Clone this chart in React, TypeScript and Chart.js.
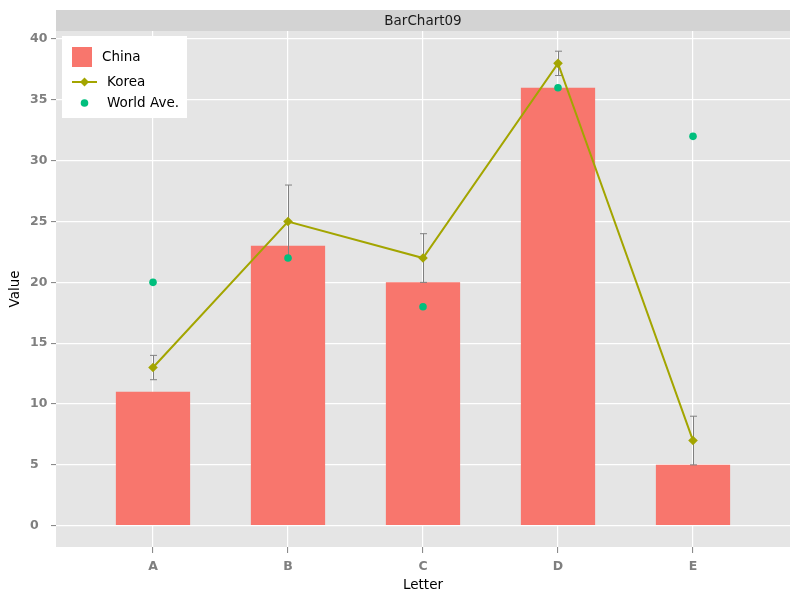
import React, { useEffect, useRef } from "react";
import { Chart, registerables } from "chart.js";

Chart.register(...registerables);

const categories = ["A", "B", "C", "D", "E"];
const chinaValues = [11, 23, 20, 36, 5];
const koreaValues = [13, 25, 22, 38, 7];
const koreaLow = [12, 22, 20, 37, 5];
const koreaHigh = [14, 28, 24, 39, 9];
const worldAveValues = [20, 22, 18, 36, 32];
const yTickValues = [0, 5, 10, 15, 20, 25, 30, 35, 40];
const chartTitle = "BarChart09";
const xTitle = "Letter";
const yTitle = "Value";
const seriesNames = ["China", "Korea", "World Ave."];

const FONT = "'DejaVu Sans', sans-serif";
const RED = "#F8766D";
const OLIVE = "#A3A500";
const GREEN = "#00BF7D";
const TICKGRAY = "#7F7F7F";

const panelPlugin = {
  id: "panelPlugin",
  beforeDraw(chart: any) {
    const { ctx, chartArea: a } = chart;
    ctx.save();
    ctx.fillStyle = "#FFFFFF";
    ctx.fillRect(0, 0, chart.width, chart.height);
    ctx.fillStyle = "#E5E5E5";
    ctx.fillRect(a.left, a.top, a.right - a.left, a.bottom - a.top);
    ctx.fillStyle = "#D3D3D3";
    ctx.fillRect(a.left, 10, a.right - a.left, a.top - 10);
    ctx.fillStyle = "#1A1A1A";
    ctx.font = `13.5px ${FONT}`;
    ctx.textAlign = "center";
    ctx.textBaseline = "middle";
    ctx.fillText(chartTitle, (a.left + a.right) / 2, (10 + a.top) / 2 + 0.5);
    ctx.fillStyle = "#000000";
    ctx.fillText(xTitle, (a.left + a.right) / 2, 585);
    ctx.translate(15, (a.top + a.bottom) / 2);
    ctx.rotate(-Math.PI / 2);
    ctx.fillText(yTitle, 0, 0);
    ctx.restore();
  },
};

const errorBarPlugin = {
  id: "errorBarPlugin",
  afterDatasetDraw(chart: any, args: any) {
    if (args.index !== 0) return;
    const { ctx } = chart;
    const xs = chart.scales.x;
    const ys = chart.scales.y;
    ctx.save();
    ctx.strokeStyle = "#808080";
    ctx.lineWidth = 1;
    categories.forEach((_, i) => {
      const x = Math.round(xs.getPixelForValue(i)) + 0.5;
      const y1 = ys.getPixelForValue(koreaLow[i]);
      const y2 = ys.getPixelForValue(koreaHigh[i]);
      ctx.beginPath();
      ctx.moveTo(x, y1);
      ctx.lineTo(x, y2);
      ctx.moveTo(x - 3.5, y1);
      ctx.lineTo(x + 3.5, y1);
      ctx.moveTo(x - 3.5, y2);
      ctx.lineTo(x + 3.5, y2);
      ctx.stroke();
    });
    ctx.restore();
  },
};

const legendPlugin = {
  id: "legendPlugin",
  afterDraw(chart: any) {
    const { ctx } = chart;
    ctx.save();
    ctx.fillStyle = "#FFFFFF";
    ctx.fillRect(62, 36, 125, 82);
    ctx.fillStyle = RED;
    ctx.fillRect(72, 47, 20, 20);
    ctx.strokeStyle = OLIVE;
    ctx.lineWidth = 2;
    ctx.beginPath();
    ctx.moveTo(72, 82);
    ctx.lineTo(97, 82);
    ctx.stroke();
    ctx.fillStyle = OLIVE;
    ctx.beginPath();
    ctx.moveTo(84.5, 77.5);
    ctx.lineTo(89, 82);
    ctx.lineTo(84.5, 86.5);
    ctx.lineTo(80, 82);
    ctx.closePath();
    ctx.fill();
    ctx.fillStyle = GREEN;
    ctx.beginPath();
    ctx.arc(84.5, 103, 3.8, 0, Math.PI * 2);
    ctx.fill();
    ctx.fillStyle = "#000000";
    ctx.font = `13.5px ${FONT}`;
    ctx.textAlign = "left";
    ctx.textBaseline = "middle";
    ctx.fillText(seriesNames[0], 102, 57.5);
    ctx.fillText(seriesNames[1], 107, 82.5);
    ctx.fillText(seriesNames[2], 107, 103.5);
    ctx.restore();
  },
};

export default function App() {
  const ref = useRef<HTMLCanvasElement | null>(null);

  useEffect(() => {
    if (!ref.current) return;
    const tickFont = { family: FONT, size: 12.5, weight: "bold" as const };
    const chart = new Chart(ref.current, {
      type: "bar",
      data: {
        datasets: [
          {
            type: "bar",
            label: seriesNames[0],
            data: categories.map((_, i) => ({ x: i, y: chinaValues[i] })),
            backgroundColor: RED,
            borderWidth: 0,
            barPercentage: 0.55,
            categoryPercentage: 1,
            order: 3,
          } as any,
          {
            type: "line",
            label: seriesNames[1],
            data: categories.map((_, i) => ({ x: i, y: koreaValues[i] })),
            borderColor: OLIVE,
            borderWidth: 2,
            pointStyle: "rectRot",
            pointRadius: 4.8,
            pointBackgroundColor: OLIVE,
            pointBorderColor: OLIVE,
            pointBorderWidth: 0,
            tension: 0,
            order: 2,
          } as any,
          {
            type: "scatter",
            label: seriesNames[2],
            data: categories.map((_, i) => ({ x: i, y: worldAveValues[i] })),
            pointRadius: 3.8,
            pointBackgroundColor: GREEN,
            pointBorderWidth: 0,
            backgroundColor: GREEN,
            borderColor: GREEN,
            order: 1,
          } as any,
        ],
      },
      options: {
        responsive: false,
        animation: false,
        layout: { padding: { left: 30, top: 31, right: 10, bottom: 0 } },
        plugins: {
          legend: { display: false },
          tooltip: { enabled: false },
          title: { display: false },
        },
        scales: {
          x: {
            type: "linear",
            offset: false,
            min: -0.7185,
            max: 4.7185,
            afterBuildTicks: (s: any) => {
              s.ticks = categories.map((_, i) => ({ value: i }));
            },
            afterFit: (s: any) => {
              s.height = 53;
            },
            ticks: {
              callback: (v: any) => categories[v] ?? "",
              color: TICKGRAY,
              font: tickFont,
              padding: 6,
              maxRotation: 0,
              autoSkip: false,
            },
            grid: {
              offset: false,
              color: "#FFFFFF",
              lineWidth: 1.2,
              tickLength: 6,
              tickColor: TICKGRAY,
              tickWidth: 1,
            },
            border: { display: false },
          },
          y: {
            type: "linear",
            min: -1.75,
            max: 40.66,
            afterBuildTicks: (s: any) => {
              s.ticks = yTickValues.map((v) => ({ value: v }));
            },
            afterFit: (s: any) => {
              s.width = 26;
            },
            ticks: {
              crossAlign: "far",
              color: TICKGRAY,
              font: tickFont,
              padding: 4,
            },
            grid: {
              color: "#FFFFFF",
              lineWidth: 1.2,
              tickLength: 5,
              tickColor: TICKGRAY,
              tickWidth: 1,
            },
            border: { display: false },
          },
        },
      } as any,
      plugins: [panelPlugin, errorBarPlugin, legendPlugin],
    });
    return () => chart.destroy();
  }, []);

  return (
    <div style={{ position: "fixed", left: 0, top: 0, width: 800, height: 600, background: "#FFFFFF" }}>
      <canvas ref={ref} width={800} height={600} />
    </div>
  );
}
